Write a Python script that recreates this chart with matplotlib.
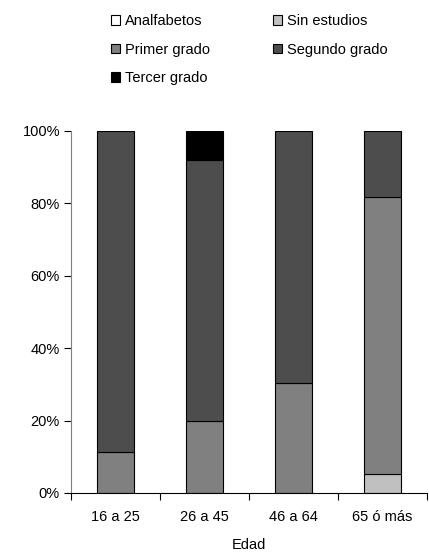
import numpy as np
import matplotlib.pyplot as plt
import matplotlib.ticker as ticker
from matplotlib.patches import Patch

plt.rcParams['font.family'] = ['Liberation Sans', 'DejaVu Sans']

# Data (percent of each age group)
edades       = ['16 a 25', '26 a 45', '46 a 64', '65 ó más']
analfabetos  = [0, 0, 0, 0]
sin_estudios = [0, 0, 0, 5.2]
primer_grado = [11.2, 20, 30.5, 76.6]
segundo      = [88.8, 72, 69.5, 18.2]
tercer_grado = [0, 8, 0, 0]

series = [
    ('Analfabetos',   analfabetos,  '#ffffff'),
    ('Sin estudios',  sin_estudios, '#c0c0c0'),
    ('Primer grado',  primer_grado, '#808080'),
    ('Segundo grado', segundo,      '#4d4d4d'),
    ('Tercer grado',  tercer_grado, '#000000'),
]

fig = plt.figure(figsize=(4.29, 5.52), dpi=100)
ax = fig.add_axes([71 / 429, 1 - 493 / 552, 356 / 429, 362 / 552])

x = np.arange(len(edades))
bottom = np.zeros(len(edades))
for name, vals, color in series:
    vals = np.array(vals, dtype=float)
    mask = vals > 0
    ax.bar(x[mask], vals[mask], width=0.41, bottom=bottom[mask],
           color=color, edgecolor='black', linewidth=0.8, zorder=2)
    bottom += vals

# Axes styling
ax.set_xlim(-0.5, 3.5)
ax.set_ylim(0, 100)
ax.spines['top'].set_visible(False)
ax.spines['right'].set_visible(False)
ax.spines['left'].set_color('#808080')
ax.spines['bottom'].set_color('#000000')
ax.yaxis.set_major_locator(ticker.MultipleLocator(20))
ax.yaxis.set_major_formatter(ticker.FuncFormatter(lambda v, p: f'{v:.0f}%'))
ax.tick_params(axis='y', direction='out', length=5, width=0.8,
               labelsize=10.5, pad=3, color='black')
ax.set_xticks(x)
ax.set_xticklabels(edades)
ax.set_xticks(np.arange(-0.5, 4, 1), minor=True)
ax.tick_params(axis='x', which='major', length=0, labelsize=10.5, pad=12.5)
ax.tick_params(axis='x', which='minor', direction='out', length=5, width=0.8)
ax.set_xlabel('Edad', fontsize=10.5, labelpad=10)

# Legend, row-major order with two columns
handles = [Patch(facecolor=c, edgecolor='black', linewidth=0.8, label=n)
           for n, _, c in series]
order = [0, 2, 4, 1, 3]
fig.legend(handles=[handles[i] for i in order], ncol=2, frameon=False,
           loc='upper left', bbox_to_anchor=(111 / 429, 1 - 14 / 552),
           fontsize=10.5, handlelength=0.62, handleheight=0.62,
           handletextpad=0.35, labelspacing=1.0, columnspacing=4.3,
           borderpad=0, borderaxespad=0)

fig.savefig('out.png', dpi=100)
